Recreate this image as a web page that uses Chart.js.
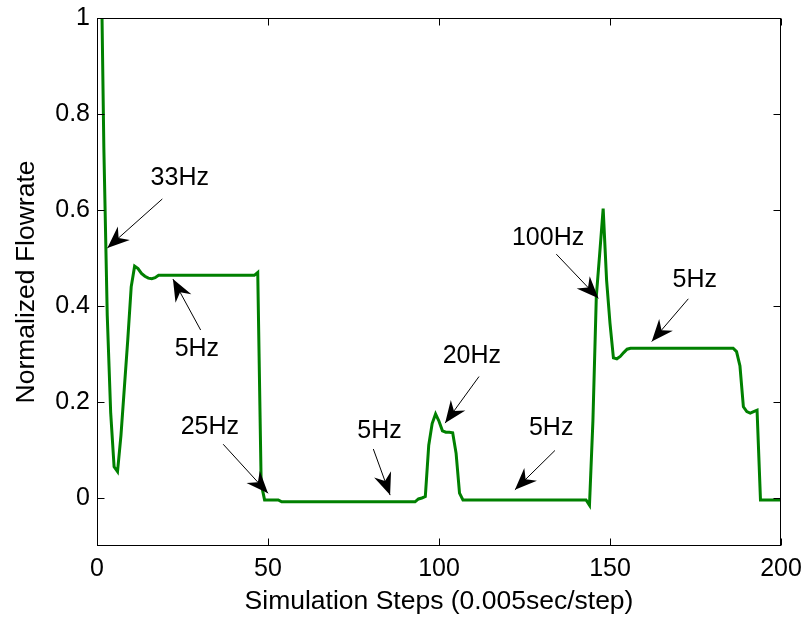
<!DOCTYPE html>
<html>
<head>
<meta charset="utf-8">
<script src="https://cdn.jsdelivr.net/npm/chart.js@4"></script>
<style>
  html, body { margin: 0; padding: 0; background: #ffffff; }
  #wrap { width: 806px; height: 619px; }
</style>
</head>
<body>
<div id="wrap"><canvas id="c" width="806" height="619"></canvas></div>
<script>
// ---- Data ----
const steps = Array.from({ length: 200 }, (_, i) => i + 1);
const flowrate = [
  1.24, 0.73, 0.38, 0.178, 0.065, 0.055, 0.13, 0.23, 0.33, 0.44,
  0.483, 0.478, 0.468, 0.462, 0.458, 0.457, 0.459, 0.464,
  0.464, 0.464, 0.464, 0.464, 0.464, 0.464, 0.464, 0.464, 0.464, 0.464,
  0.464, 0.464, 0.464, 0.464, 0.464, 0.464, 0.464, 0.464, 0.464, 0.464,
  0.464, 0.464, 0.464, 0.464, 0.464, 0.464, 0.464, 0.464,
  0.47, 0.03,
  -0.004, -0.004, -0.004, -0.004, -0.004,
  -0.008, -0.008, -0.008, -0.008, -0.008, -0.008, -0.008, -0.008, -0.008, -0.008,
  -0.008, -0.008, -0.008, -0.008, -0.008, -0.008, -0.008, -0.008, -0.008, -0.008,
  -0.008, -0.008, -0.008, -0.008, -0.008, -0.008, -0.008, -0.008, -0.008, -0.008,
  -0.008, -0.008, -0.008, -0.008, -0.008, -0.008, -0.008, -0.008, -0.008, -0.008,
  -0.002, 0.0, 0.003, 0.11, 0.155, 0.175, 0.16, 0.14, 0.137, 0.137, 0.136, 0.093, 0.01,
  -0.004, -0.004, -0.004, -0.004, -0.004, -0.004, -0.004, -0.004, -0.004, -0.004,
  -0.004, -0.004, -0.004, -0.004, -0.004, -0.004, -0.004, -0.004, -0.004, -0.004,
  -0.004, -0.004, -0.004, -0.004, -0.004, -0.004, -0.004, -0.004, -0.004, -0.004,
  -0.004, -0.004, -0.004, -0.004, -0.004, -0.004, -0.004,
  -0.015, 0.16, 0.42, 0.51, 0.603, 0.454, 0.364, 0.292, 0.29, 0.295, 0.303, 0.31,
  0.312, 0.312, 0.312, 0.312, 0.312, 0.312, 0.312, 0.312, 0.312, 0.312,
  0.312, 0.312, 0.312, 0.312, 0.312, 0.312, 0.312, 0.312, 0.312, 0.312,
  0.312, 0.312, 0.312, 0.312, 0.312, 0.312, 0.312, 0.312, 0.312, 0.312, 0.312,
  0.305, 0.275, 0.19, 0.18, 0.177, 0.18, 0.183,
  -0.004, -0.004, -0.004, -0.004, -0.004, -0.004, -0.004
];
const xTicks = [0, 50, 100, 150, 200];
const yTicks = [0, 0.2, 0.4, 0.6, 0.8, 1];
const xRange = [0, 200];
const yRange = [-0.1, 1];

// annotation labels: text, text position, arrow tail, arrow tip (data units)
const noteTexts = ['33Hz', '5Hz', '25Hz', '5Hz', '20Hz', '5Hz', '100Hz', '5Hz'];
const noteTextPos = [[24.2, 0.667], [29.2, 0.31], [33.0, 0.148], [82.6, 0.140], [109.6, 0.296], [132.8, 0.146], [131.9, 0.542], [174.8, 0.454]];
const noteTail = [[19.1, 0.623], [30.3, 0.35], [36.9, 0.112], [80.8, 0.102], [111.7, 0.253], [133.9, 0.099], [134.3, 0.508], [172.9, 0.415]];
const noteTip = [[3.04, 0.521], [22.2, 0.456], [50.0, 0.0098], [85.7, 0.006], [101.8, 0.156], [122.2, 0.017], [146.6, 0.416], [162.2, 0.326]];

const FONT = "'Liberation Sans', Arial, Helvetica, sans-serif";
const FS = 25;
const FS_TITLE = 26.5;

const points = steps.map((s, i) => ({ x: s, y: flowrate[i] }));

function drawArrow(ctx, x1, y1, x2, y2) {
  ctx.beginPath();
  ctx.moveTo(x1, y1);
  ctx.lineTo(x2, y2);
  ctx.stroke();
  const a = Math.atan2(y2 - y1, x2 - x1);
  const L = 22, W = 9, N = 15;
  const ux = Math.cos(a), uy = Math.sin(a), px = -uy, py = ux;
  ctx.beginPath();
  ctx.moveTo(x2, y2);
  ctx.lineTo(x2 - ux * L + px * W, y2 - uy * L + py * W);
  ctx.lineTo(x2 - ux * N, y2 - uy * N);
  ctx.lineTo(x2 - ux * L - px * W, y2 - uy * L - py * W);
  ctx.closePath();
  ctx.fill();
}

function zeroPad(s) {
  s.paddingLeft = 0; s.paddingRight = 0; s.paddingTop = 0; s.paddingBottom = 0;
}

const framePlugin = {
  id: 'framePlugin',
  afterDatasetsDraw(chart) {
    const { ctx, chartArea: ca, scales } = chart;
    const xs = scales.x, ys = scales.y;
    ctx.save();
    // annotations
    ctx.strokeStyle = '#000';
    ctx.fillStyle = '#000';
    ctx.lineWidth = 1;
    for (let i = 0; i < noteTexts.length; i++) {
      drawArrow(ctx,
        xs.getPixelForValue(noteTail[i][0]), ys.getPixelForValue(noteTail[i][1]),
        xs.getPixelForValue(noteTip[i][0]), ys.getPixelForValue(noteTip[i][1]));
    }
    ctx.font = FS + 'px ' + FONT;
    ctx.textAlign = 'center';
    ctx.textBaseline = 'middle';
    for (let i = 0; i < noteTexts.length; i++) {
      ctx.fillText(noteTexts[i], xs.getPixelForValue(noteTextPos[i][0]), ys.getPixelForValue(noteTextPos[i][1]));
    }
    // frame
    ctx.lineWidth = 1;
    ctx.strokeStyle = '#000';
    const l = Math.round(ca.left) + 0.5, r = Math.round(ca.right) - 0.5;
    const t = Math.round(ca.top) + 0.5, b = Math.round(ca.bottom) - 0.5;
    ctx.strokeRect(l, t, r - l, b - t);
    const TL = 7;
    ctx.beginPath();
    xTicks.forEach(v => {
      const x = Math.round(xs.getPixelForValue(v)) + 0.5;
      ctx.moveTo(x, b); ctx.lineTo(x, b - TL);
      ctx.moveTo(x, t); ctx.lineTo(x, t + TL);
    });
    yTicks.forEach(v => {
      const y = Math.round(ys.getPixelForValue(v)) + 0.5;
      ctx.moveTo(l, y); ctx.lineTo(l + TL, y);
      ctx.moveTo(r, y); ctx.lineTo(r - TL, y);
    });
    ctx.stroke();
    ctx.restore();
  }
};

new Chart(document.getElementById('c'), {
  type: 'line',
  data: {
    datasets: [{
      data: points,
      borderColor: 'rgb(0,128,0)',
      borderWidth: 3,
      pointRadius: 0,
      tension: 0,
      fill: false
    }]
  },
  options: {
    responsive: false,
    animation: false,
    events: [],
    layout: { padding: { left: 0, top: 18, right: 25, bottom: 0 } },
    plugins: { legend: { display: false }, tooltip: { enabled: false } },
    scales: {
      x: {
        type: 'linear',
        min: xRange[0], max: xRange[1],
        afterBuildTicks: s => { s.ticks = xTicks.map(v => ({ value: v })); },
        afterFit: s => { s.height = 73; zeroPad(s); },
        grid: { display: false, drawTicks: false },
        border: { display: false },
        ticks: { color: '#000', font: { family: FONT, size: FS }, padding: 8, maxRotation: 0, autoSkip: false },
        title: { display: true, text: 'Simulation Steps (0.005sec/step)', color: '#000', font: { family: FONT, size: FS_TITLE }, padding: { top: 0, bottom: 1 } }
      },
      y: {
        type: 'linear',
        min: yRange[0], max: yRange[1],
        afterBuildTicks: s => { s.ticks = yTicks.map(v => ({ value: v })); },
        afterFit: s => { s.width = 97; zeroPad(s); },
        grid: { display: false, drawTicks: false },
        border: { display: false },
        ticks: { color: '#000', font: { family: FONT, size: FS }, padding: 7, autoSkip: false, callback: v => String(Math.round(v * 10) / 10) },
        title: { display: true, text: 'Normalized Flowrate', color: '#000', font: { family: FONT, size: FS_TITLE }, padding: { top: 11, bottom: 0 } }
      }
    }
  },
  plugins: [framePlugin]
});
</script>
</body>
</html>
